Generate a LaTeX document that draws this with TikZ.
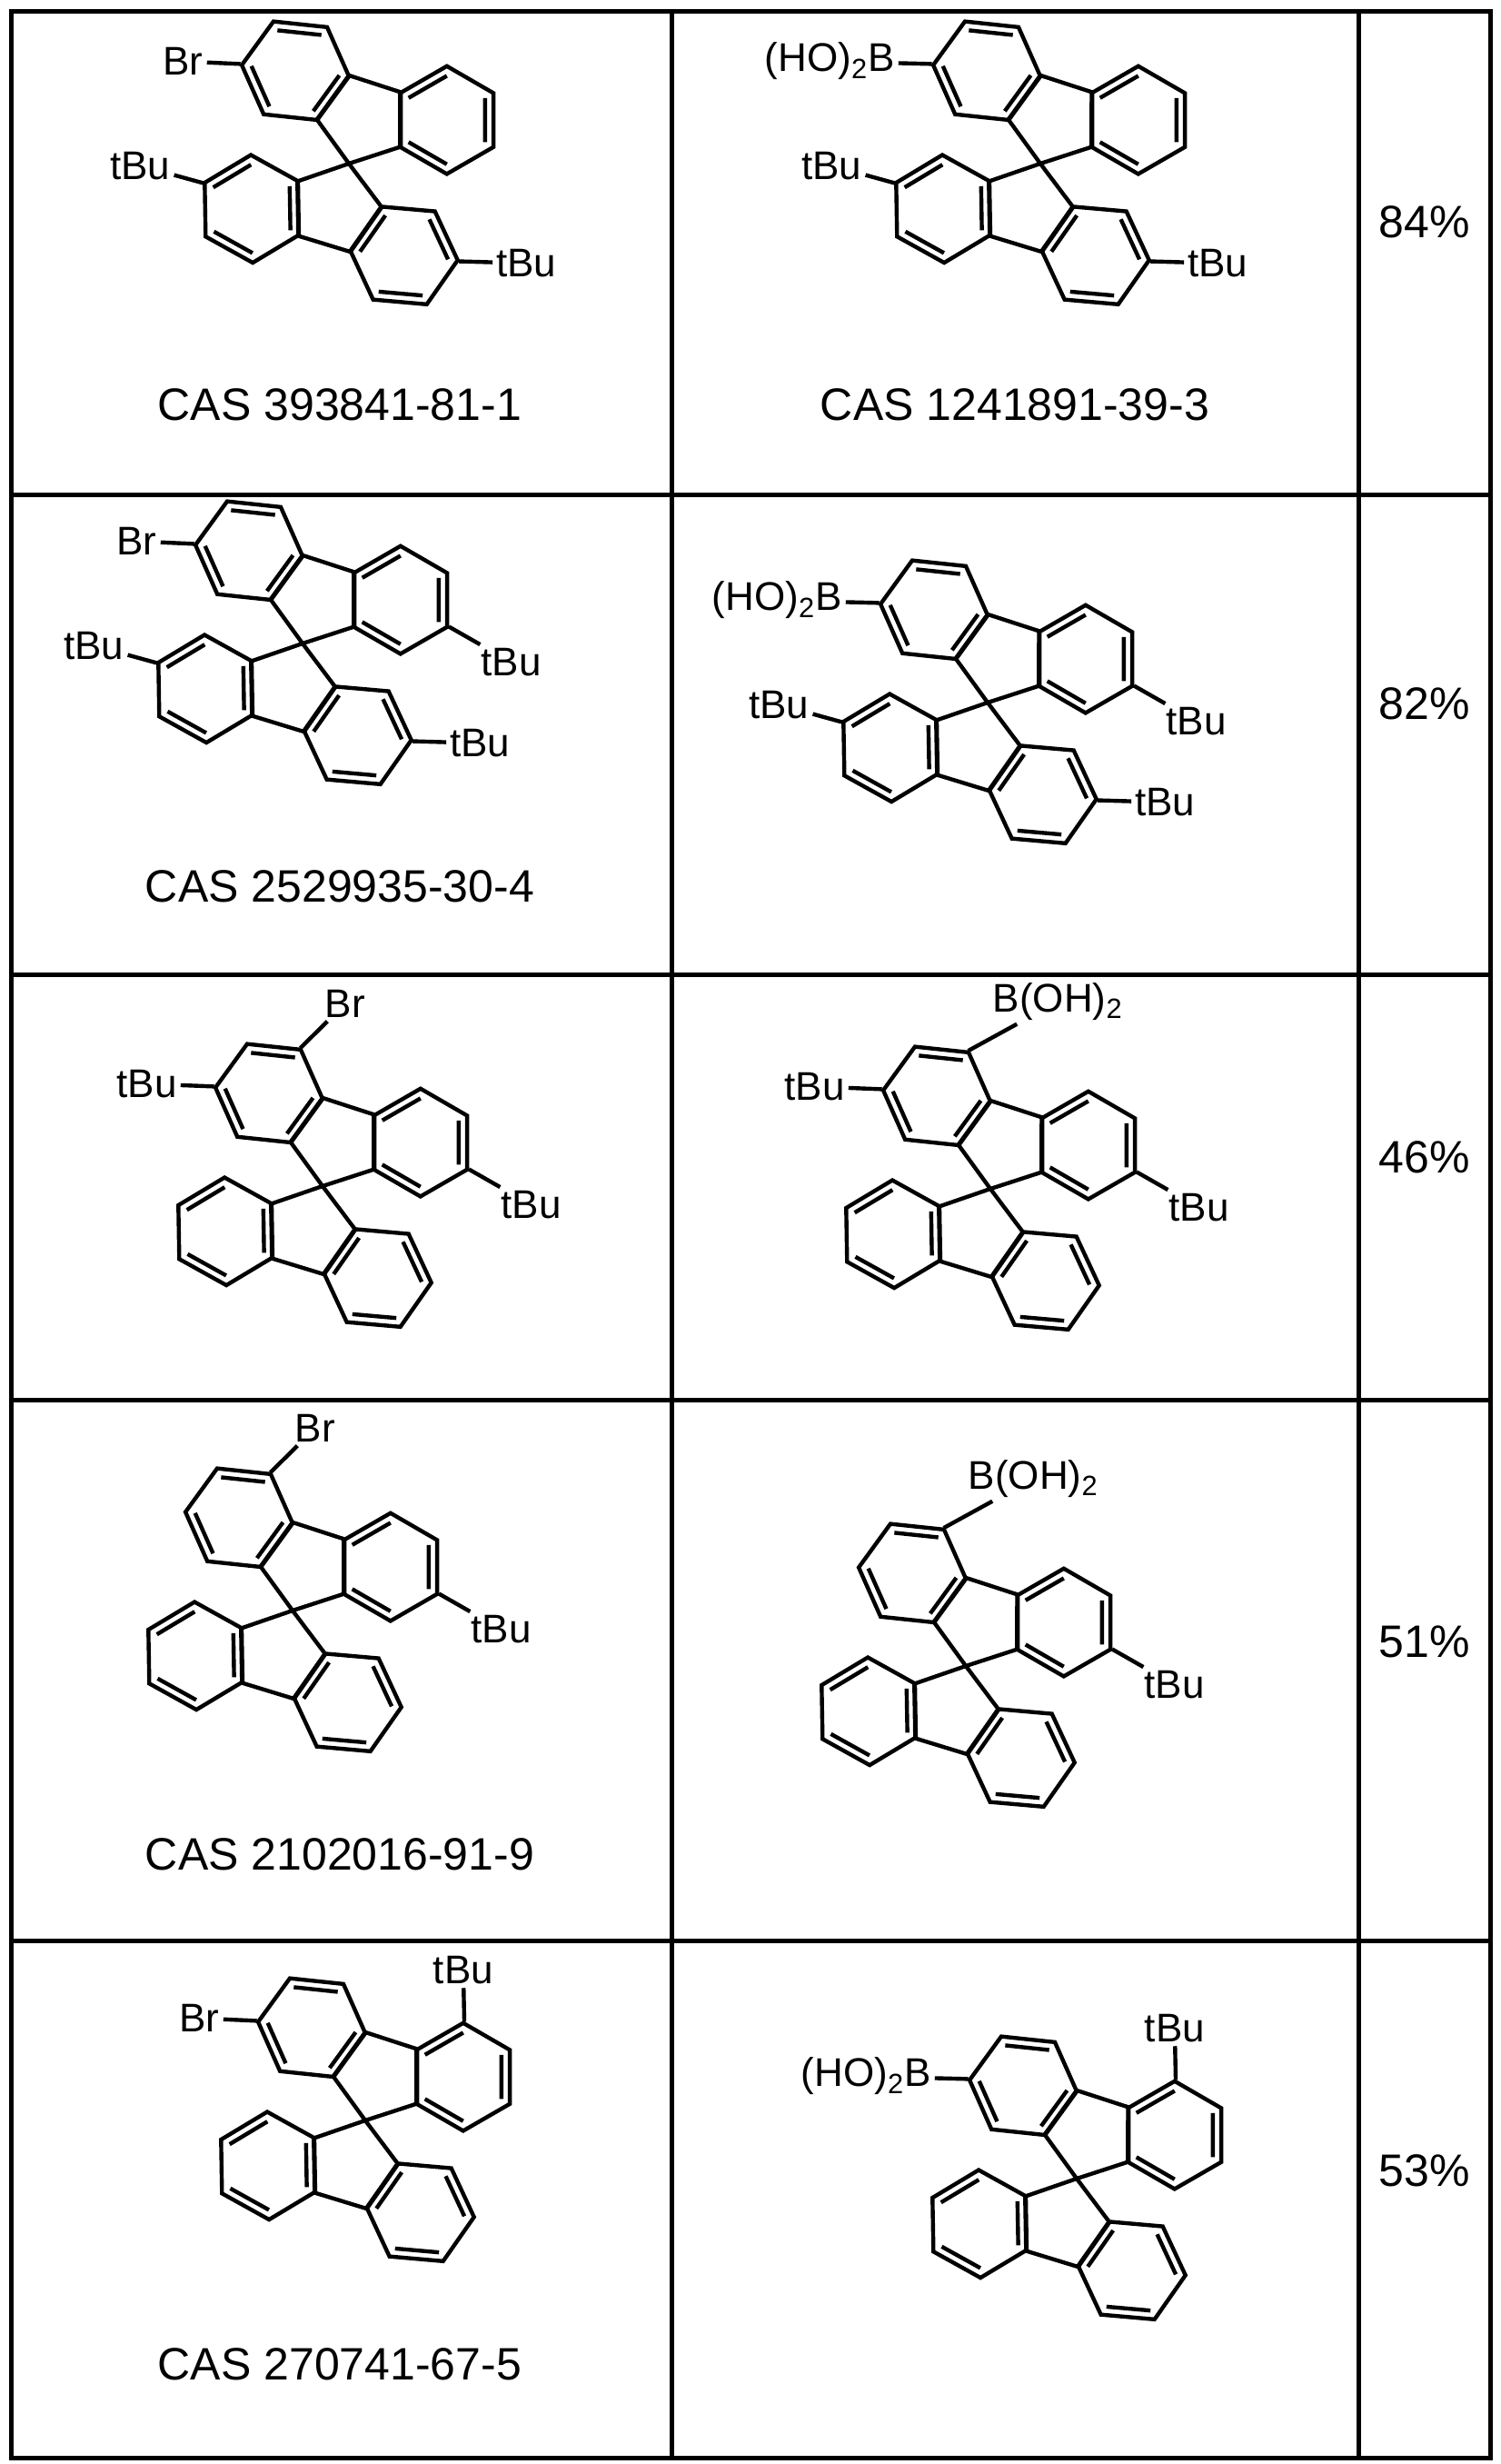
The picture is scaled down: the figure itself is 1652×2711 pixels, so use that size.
\documentclass[tikz,border=0pt]{standalone}
\usepackage{fontspec}
\setmainfont{Liberation Sans}
\usetikzlibrary{calc}

% one benzene ring: centre, first angle, step, double bonds, prefix
\newcommand{\ringsix}[5]{%
  \coordinate (#5c) at (#1);
  \foreach \k in {0,...,5}{
    \coordinate (#5\k) at ($(#1)+({#2+\k*(#3)}:1)$);
    \coordinate (#5s\k) at ($(#5c)!1.65!(#5\k)$);
  }
  \draw (#50) -- (#51) -- (#52) -- (#53) -- (#54) -- (#55) -- cycle;
  \foreach \k/\j in {#4}
    \draw ($(#5c)!0.82!(#5\k)$) -- ($(#5c)!0.82!(#5\j)$);
}
% fluorene hanging from its C9: name, C9, turn, left and right doubles
\newcommand{\fluorene}[5]{%
  \begin{scope}[shift={#2}, rotate={-(#3)}, scale=60]
    \draw (0,0) -- (-0.809,0.588) -- (-0.5,1.539) -- (0.5,1.539) -- (0.809,0.588) -- cycle;
    \ringsix{-1.478,1.331}{12}{-60}{#4}{#1l}
    \ringsix{1.478,1.331}{168}{60}{#5}{#1r}
  \end{scope}}
% spirobifluorene core
\newcommand{\spirofl}[2]{%
  \fluorene{#1U}{#2}{-162}{1/2,3/4,5/0}{0/1,2/3,4/5}
  \fluorene{#1L}{#2}{17}{0/1,2/3,4/5}{0/1,2/3,4/5}}

\begin{document}
\begin{tikzpicture}[
	x=0.5pt, y=-0.5pt,
	line width=2.2pt,
	grid/.style={line width=2.5pt},
	sub/.style={font=\fontsize{22}{26}\selectfont, inner sep=1pt},
	cas/.style={font=\fontsize{25}{30}\selectfont},
]
\useasboundingbox (0,0) rectangle (1652,2711);

% table
\draw[grid] (12,12) rectangle (1640,2704);
\foreach \y in {544,1072,1540,2135}
	\draw[grid] (12,\y) -- (1640,\y);
\foreach \x in {739,1495}
	\draw[grid] (\x,12) -- (\x,2704);

% row 1
\spirofl{a}{(384,180)}
\node[sub,anchor=east] (aBr) at (aUrs3) {Br};
\node[sub,anchor=east] (atBuA) at (aLls3) {tBu};
\node[sub,anchor=west] (atBuB) at (aLrs3) {tBu};
\draw (aUr3) -- (aBr) (aLl3) -- (atBuA) (aLr3) -- (atBuB);
\node[cas] (aCas) at (374,445) {CAS 393841-81-1};

\spirofl{b}{(1145,180)}
\node[sub,anchor=east] (bB) at (bUrs3) {(HO)\textsubscript{2}B};
\node[sub,anchor=east] (btBuA) at (bLls3) {tBu};
\node[sub,anchor=west] (btBuB) at (bLrs3) {tBu};
\draw (bUr3) -- (bB) (bLl3) -- (btBuA) (bLr3) -- (btBuB);
\node[cas] (bCas) at (1117,445) {CAS 1241891-39-3};
\node[cas] (bYield) at (1568,244) {84\%};

% row 2
\spirofl{c}{(333,708)}
\node[sub,anchor=east] (cBr) at (cUrs3) {Br};
\node[sub,anchor=north west] (ctBuU) at (cUls3) {tBu};
\node[sub,anchor=east] (ctBuA) at (cLls3) {tBu};
\node[sub,anchor=west] (ctBuB) at (cLrs3) {tBu};
\draw (cUr3) -- (cBr) (cUl3) -- (ctBuU) (cLl3) -- (ctBuA) (cLr3) -- (ctBuB);
\node[cas] (cCas) at (374,975) {CAS 2529935-30-4};

\spirofl{d}{(1087,773)}
\node[sub,anchor=east] (dB) at (dUrs3) {(HO)\textsubscript{2}B};
\node[sub,anchor=north west] (dtBuU) at (dUls3) {tBu};
\node[sub,anchor=east] (dtBuA) at (dLls3) {tBu};
\node[sub,anchor=west] (dtBuB) at (dLrs3) {tBu};
\draw (dUr3) -- (dB) (dUl3) -- (dtBuU) (dLl3) -- (dtBuA) (dLr3) -- (dtBuB);
\node[cas] (dYield) at (1568,774) {82\%};

% row 3
\spirofl{e}{(355,1305)}
\node[sub,anchor=south west] (eBr) at (eUrs5) {Br};
\node[sub,anchor=east] (etBuA) at (eUrs3) {tBu};
\node[sub,anchor=north west] (etBuB) at (eUls3) {tBu};
\draw (eUr5) -- (eBr) (eUr3) -- (etBuA) (eUl3) -- (etBuB);

\spirofl{f}{(1090,1308)}
\node[sub,anchor=south west] (fB) at (fUrs5) {B(OH)\textsubscript{2}};
\node[sub,anchor=east] (ftBuA) at (fUrs3) {tBu};
\node[sub,anchor=north west] (ftBuB) at (fUls3) {tBu};
\draw (fUr5) -- (fB) (fUr3) -- (ftBuA) (fUl3) -- (ftBuB);
\node[cas] (fYield) at (1568,1273) {46\%};

% row 4
\spirofl{g}{(322,1772)}
\node[sub,anchor=south west] (gBr) at (gUrs5) {Br};
\node[sub,anchor=north west] (gtBu) at (gUls3) {tBu};
\draw (gUr5) -- (gBr) (gUl3) -- (gtBu);
\node[cas] (gCas) at (374,2040) {CAS 2102016-91-9};

\spirofl{h}{(1063,1833)}
\node[sub,anchor=south west] (hB) at (hUrs5) {B(OH)\textsubscript{2}};
\node[sub,anchor=north west] (htBu) at (hUls3) {tBu};
\draw (hUr5) -- (hB) (hUl3) -- (htBu);
\node[cas] (hYield) at (1568,1806) {51\%};

% row 5
\spirofl{i}{(402,2333)}
\node[sub,anchor=east] (iBr) at (iUrs3) {Br};
\node[sub,anchor=south] (itBu) at (iUls5) {tBu};
\draw (iUr3) -- (iBr) (iUl5) -- (itBu);
\node[cas] (iCas) at (374,2601) {CAS 270741-67-5};

\spirofl{j}{(1185,2397)}
\node[sub,anchor=east] (jB) at (jUrs3) {(HO)\textsubscript{2}B};
\node[sub,anchor=south] (jtBu) at (jUls5) {tBu};
\draw (jUr3) -- (jB) (jUl5) -- (jtBu);
\node[cas] (jYield) at (1568,2388) {53\%};
\end{tikzpicture}
\end{document}
